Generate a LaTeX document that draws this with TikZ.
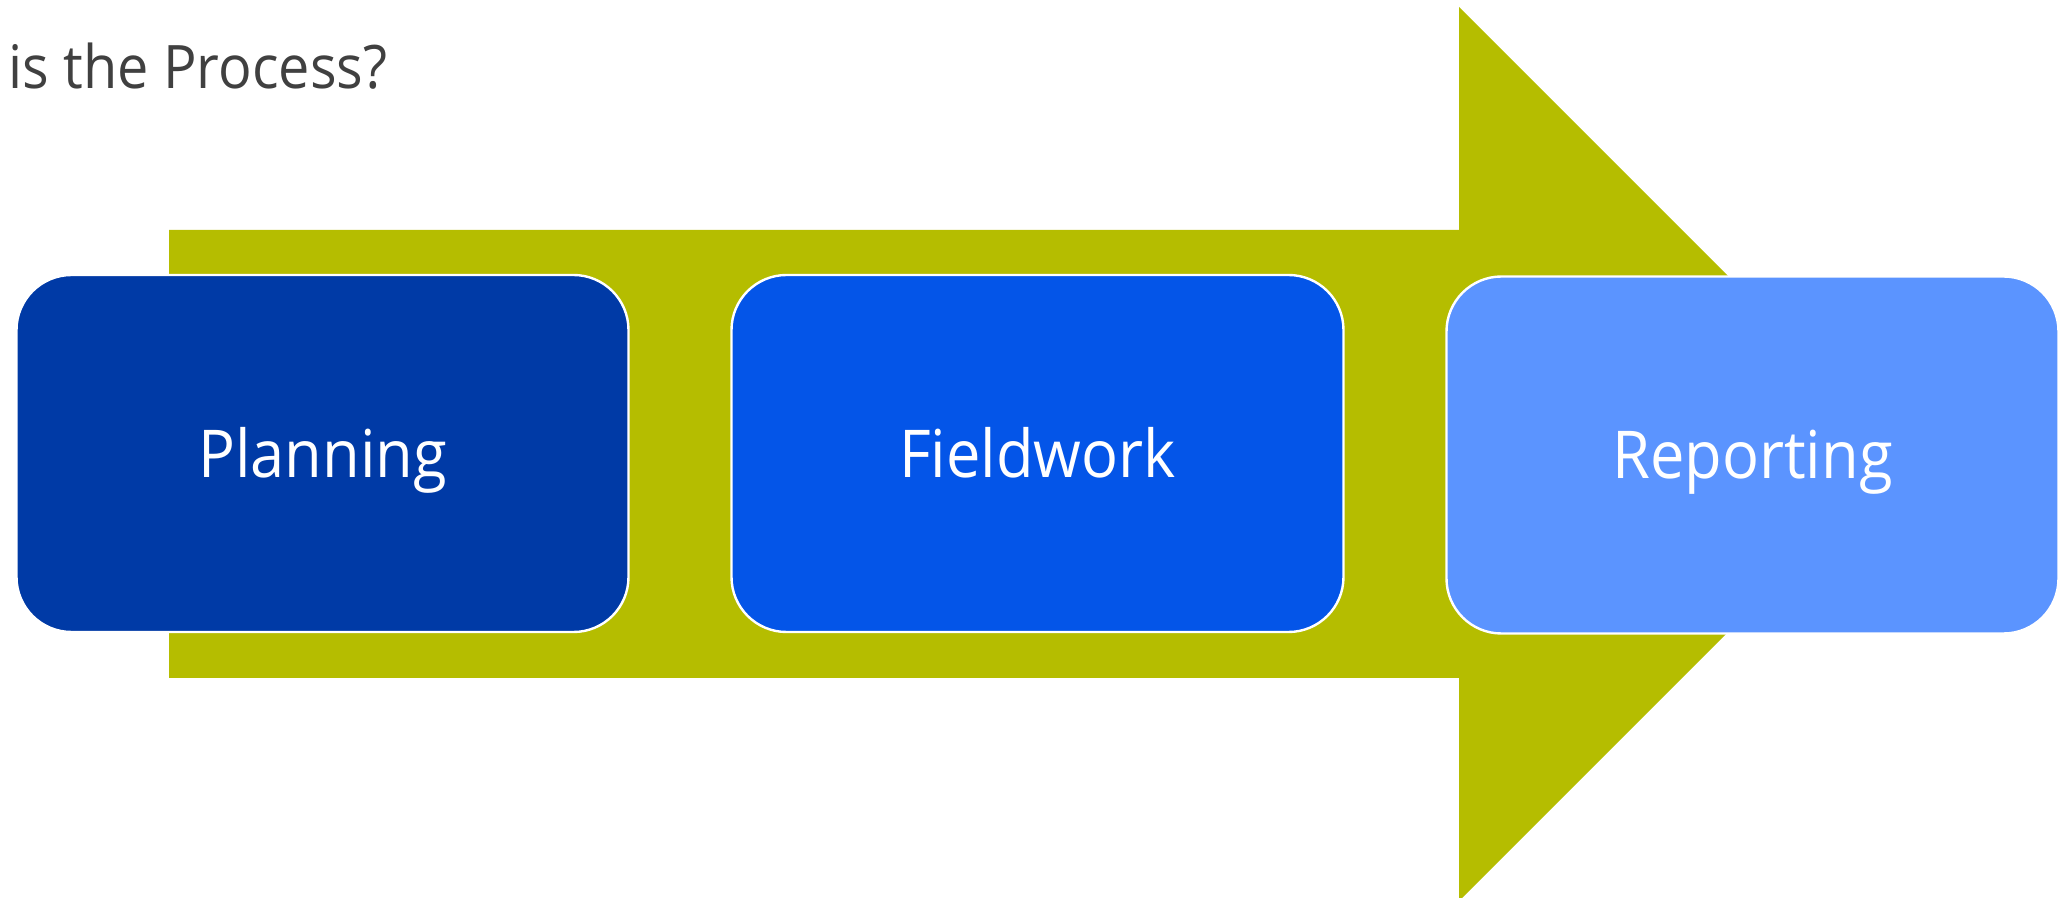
\documentclass[tikz,border=0pt]{standalone}
\usepackage{fontspec}
\setmainfont{Open Sans}[FakeStretch=0.93]
\definecolor{arrowolive}{HTML}{B5BD00}
\definecolor{planblue}{HTML}{003AA6}
\definecolor{fieldblue}{HTML}{0455E8}
\definecolor{reportblue}{HTML}{5B94FF}
\definecolor{titlegray}{HTML}{404040}
\tikzset{
  stage/.style={rectangle, rounded corners=27.5pt, draw=white, line width=1.2pt,
    minimum width=306pt, minimum height=178.5pt, inner sep=0pt,
    text=white, font=\fontsize{33}{40}\selectfont, text height=23.6pt, text depth=0pt},
  titletext/.style={inner sep=0pt, text=titlegray, font=\fontsize{30}{36}\selectfont}
}
\begin{document}
\begin{tikzpicture}[x=0.5pt,y=-0.5pt]
\useasboundingbox (0,0) rectangle (2069,898);
\clip (0,0) rectangle (2069,898);
\fill[arrowolive] (169,230) -- (1459,230) -- (1459,7) -- (1906,454) -- (1459,901)
  -- (1459,678) -- (169,678) -- cycle;
\node[stage, fill=planblue] (planning) at (322.5,453.5) {Planning};
\node[stage, fill=fieldblue] (fieldwork) at (1037.5,453.5) {Fieldwork};
\node[stage, fill=reportblue] (reporting) at (1752.5,455) {Reporting};
\node[titletext, anchor=base west] (title) at (8,89) {is the Process?};
\end{tikzpicture}
\end{document}
